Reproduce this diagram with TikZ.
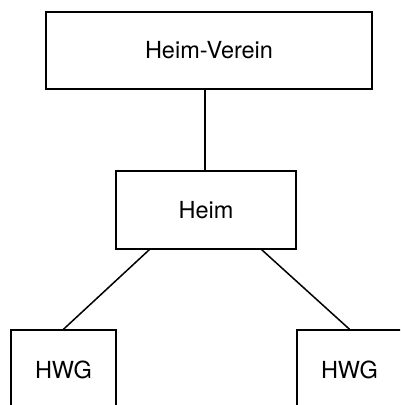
\documentclass[tikz,border=0pt]{standalone}
\usepackage{fontspec}
\setmainfont{TeX Gyre Heros}

\begin{document}
\begin{tikzpicture}[x=1pt, y=-1pt,
     box/.style={draw, line width=1.5pt, inner sep=0pt, font=\fontsize{23.5}{28}\selectfont},
     link/.style={line width=1.5pt}]

   \clip (0,0) rectangle (400,405);

   \node[box, minimum width=326pt, minimum height=77pt] (verein) at (209,50.5) {Heim-Verein};
   \node[box, minimum width=180pt, minimum height=78pt] (heim) at (206,210) {Heim};
   \node[box, minimum width=105pt, minimum height=80pt] (hwgl) at (63.5,370) {HWG};
   \node[box, minimum width=105pt, minimum height=80pt] (hwgr) at (349.5,370) {HWG};

   \draw[link] (verein.south -| 205,0) -- (heim.north -| 205,0);
   \draw[link] ([xshift=34pt]heim.south west) -- (hwgl.north);
   \draw[link] ([xshift=-35pt]heim.south east) -- (hwgr.north);
\end{tikzpicture}
\end{document}
